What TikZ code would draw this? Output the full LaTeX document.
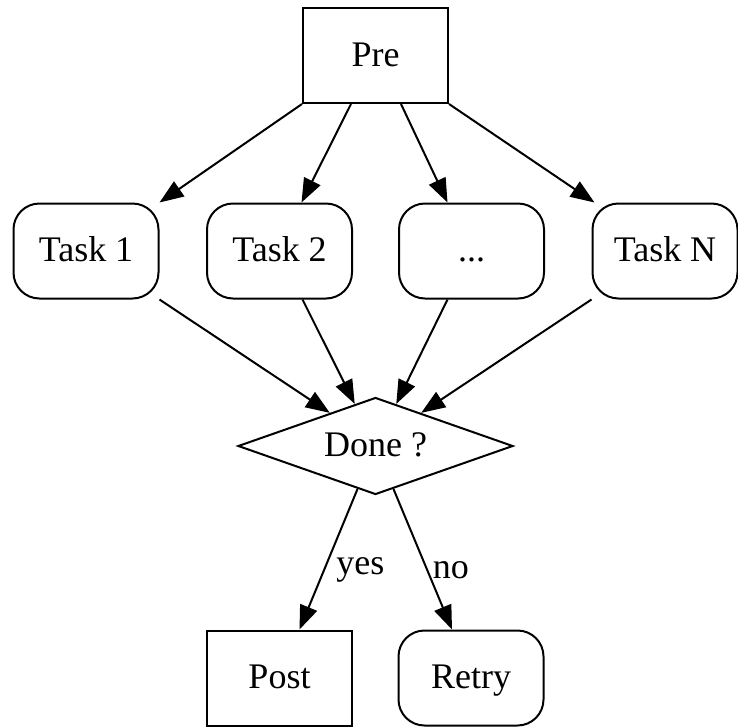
\documentclass[tikz,border=0pt]{standalone}
\usepackage{fontspec}
\setmainfont{Liberation Serif}
\usetikzlibrary{shapes.geometric,arrows.meta,calc}
\begin{document}
\begin{tikzpicture}[x=1pt,y=-1pt,
  font=\fontsize{36}{42}\selectfont,
  every node/.style={line width=2pt},
  box/.style={draw, rectangle, minimum width=145pt, minimum height=95pt, inner sep=0pt, text height=24pt, text depth=3pt},
  rbox/.style={box, rounded corners=26pt},
  dia/.style={draw, diamond, aspect=2.9, minimum width=275pt, minimum height=97pt, inner sep=0pt, text height=24pt, text depth=3pt},
  lbl/.style={inner sep=0pt, anchor=west, yshift=-8pt},
  arr/.style={line width=2pt, -{Triangle[length=24pt,width=18pt]}}]
\useasboundingbox (0,0) rectangle (738,726);
\node[box] (pre) at (375.5,55.5) {Pre};
\node[rbox] (task1) at (86,251) {Task 1};
\node[rbox] (task2) at (279.5,251) {Task 2};
\node[rbox] (dots) at (471.5,251) {...};
\node[rbox] (taskN) at (665,251) {Task N};
\node[dia] (done) at (375.5,446) {Done ?};
\node[box] (post) at (279.5,678) {Post};
\node[rbox] (retry) at (471,678) {Retry};

\draw[arr] (pre.south west) -- (task1.north east);
\draw[arr] ($(pre.south west)+(49,0)$) -- ($(task2.north)+(22,0)$);
\draw[arr] ($(pre.south east)+(-48,0)$) -- ($(dots.north)+(-24,0)$);
\draw[arr] (pre.south east) -- ($(taskN.north west)+(3,0)$);

\draw[arr] (task1.south east) -- ($(done.west)!0.67!(done.north)$);
\draw[arr] ($(task2.south)+(23,0)$) -- ($(done.west)!0.85!(done.north)$);
\draw[arr] ($(dots.south)+(-24,0)$) -- ($(done.east)!0.85!(done.north)$);
\draw[arr] (taskN.south west) -- ($(done.east)!0.67!(done.north)$);

\draw[arr] ($(done.south)!0.13!(done.west)$) -- node[lbl, pos=0.52, xshift=8pt] (lyes) {yes} ($(post.north)+(20,0)$);
\draw[arr] ($(done.south)!0.13!(done.east)$) -- node[lbl, pos=0.52, xshift=8pt] (lno) {no} ($(retry.north)+(-19,0)$);
\end{tikzpicture}
\end{document}
